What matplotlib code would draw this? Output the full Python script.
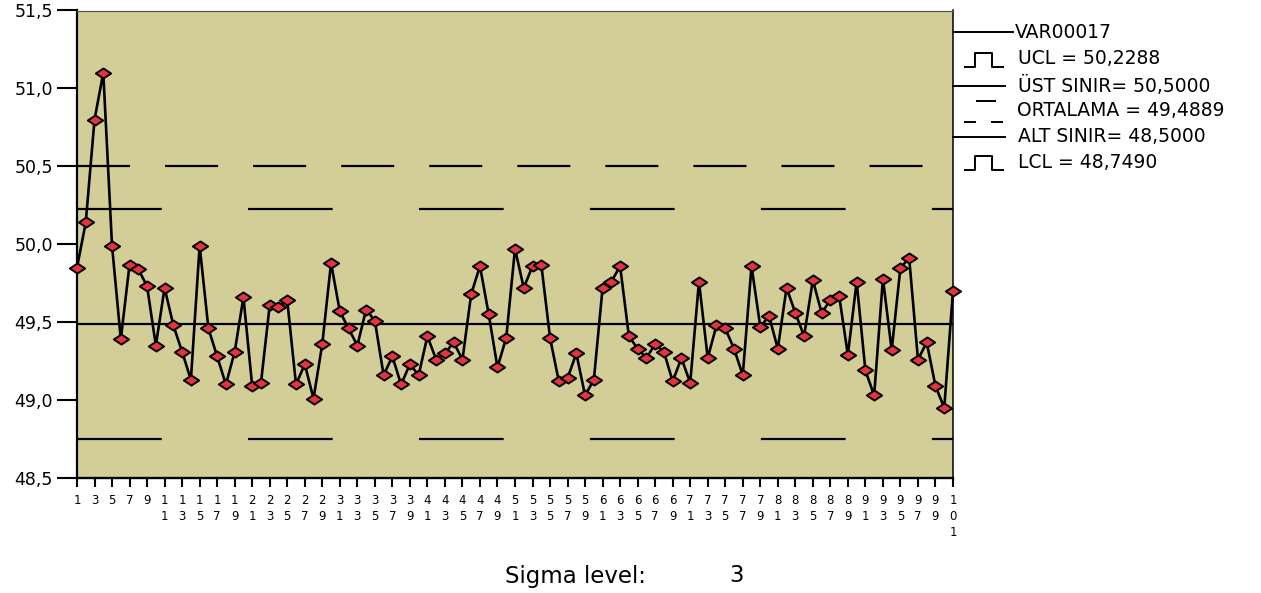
import matplotlib
matplotlib.use('Agg')
import matplotlib.pyplot as plt
from matplotlib.path import Path
from matplotlib.lines import Line2D

plt.rcParams['font.family'] = ['DejaVu Sans']
plt.rcParams['lines.scale_dashes'] = False

# ---------------- data ----------------
sample_no = list(range(1, 102))
values = [
    49.85, 50.14, 50.80, 51.10, 49.99, 49.39, 49.87, 49.84, 49.73, 49.35,
    49.72, 49.48, 49.31, 49.13, 49.99, 49.46, 49.28, 49.10, 49.31, 49.66,
    49.09, 49.11, 49.61, 49.60, 49.64, 49.10, 49.23, 49.01, 49.36, 49.88,
    49.57, 49.46, 49.35, 49.58, 49.51, 49.16, 49.28, 49.10, 49.23, 49.16,
    49.41, 49.26, 49.30, 49.37, 49.26, 49.68, 49.86, 49.55, 49.21, 49.40,
    49.97, 49.72, 49.86, 49.87, 49.40, 49.12, 49.14, 49.30, 49.03, 49.13,
    49.72, 49.76, 49.86, 49.41, 49.33, 49.27, 49.36, 49.31, 49.12, 49.27,
    49.11, 49.76, 49.27, 49.48, 49.46, 49.33, 49.16, 49.86, 49.47, 49.54,
    49.33, 49.72, 49.56, 49.41, 49.77, 49.56, 49.64, 49.67, 49.29, 49.76,
    49.19, 49.03, 49.78, 49.32, 49.85, 49.91, 49.26, 49.37, 49.09, 48.95,
    49.70,
]
UCL = 50.2288
LCL = 48.7490
UST_SINIR = 50.5000
ALT_SINIR = 48.5000
ORTALAMA = 49.4889

y_ticks = [48.5, 49.0, 49.5, 50.0, 50.5, 51.0, 51.5]
y_ticklabels = ['48,5', '49,0', '49,5', '50,0', '50,5', '51,0', '51,5']
x_ticks = list(range(1, 102, 2))
x_ticklabels = ['\n'.join(str(n)) for n in x_ticks]

legend_labels = ['VAR00017', 'UCL = 50,2288', 'ÜST SINIR= 50,5000',
                 'ORTALAMA = 49,4889', 'ALT SINIR= 48,5000', 'LCL = 48,7490']
sigma_label = 'Sigma level:'
sigma_value = '3'

# ---------------- figure ----------------
W, H = 1261, 593
fig = plt.figure(figsize=(W / 100, H / 100), dpi=100)


def fx(px):
    return px / W


def fy(py):
    return 1 - py / H


ax = fig.add_axes([fx(77), fy(478), fx(953) - fx(77), fy(10.5) - fy(478)])
ax.set_facecolor('#D3CE98')
ax.set_xlim(1, 101)
ax.set_ylim(ALT_SINIR, 51.5)

# control lines
ax.axhline(UST_SINIR, color='black', lw=1.6, dashes=(38.2, 25.2), zorder=2)
ax.axhline(UCL, color='black', lw=1.6, dashes=(61.0, 62.1), zorder=2)
ax.axhline(LCL, color='black', lw=1.6, dashes=(61.0, 62.1), zorder=2)
ax.axhline(ORTALAMA, color='black', lw=1.6, zorder=2)

diamond = Path([(-1, 0), (0, 0.66), (1, 0), (0, -0.66), (-1, 0)],
               [Path.MOVETO, Path.LINETO, Path.LINETO, Path.LINETO, Path.CLOSEPOLY])
ax.plot(sample_no, values, color='black', lw=1.9, marker=diamond, ms=11,
        mfc='#E8323C', mec='black', mew=1.4, clip_on=False, zorder=5)

ax.set_yticks(y_ticks)
ax.set_yticklabels(y_ticklabels)
ax.set_xticks(x_ticks)
ax.set_xticklabels(x_ticklabels)
for lbl in ax.get_xticklabels():
    lbl.set_linespacing(1.32)
ax.tick_params(axis='y', length=14.4, width=1.5, labelsize=12.5, pad=3, direction='out')
ax.tick_params(axis='x', length=6.5, width=1.5, labelsize=8.5, pad=5, direction='out')

ax.spines['top'].set_color('#555555')
ax.spines['top'].set_linewidth(0.9)
ax.spines['left'].set_linewidth(1.6)
ax.spines['bottom'].set_linewidth(1.7)
ax.spines['right'].set_linewidth(1.1)

# ---------------- legend (drawn manually like SPSS) ----------------
lkw = dict(color='black', lw=1.4, transform=fig.transFigure)
text_y = [32, 59, 86, 111, 137, 162]
text_x = [1015, 1018, 1018, 1017, 1018, 1018]

# VAR00017
fig.add_artist(Line2D([fx(953), fx(1013)], [fy(text_y[0])] * 2, **lkw))


def step_symbol(yc):
    xs = [965, 975, 975, 992, 992, 1003]
    ys = [yc + 8, yc + 8, yc - 6, yc - 6, yc + 8, yc + 8]
    fig.add_artist(Line2D([fx(v) for v in xs], [fy(v) for v in ys], **lkw))


# UCL step symbol
step_symbol(text_y[1])
# ÜST SINIR
fig.add_artist(Line2D([fx(953), fx(1005)], [fy(text_y[2])] * 2, **lkw))
# ORTALAMA dashed symbol
yc = text_y[3]
fig.add_artist(Line2D([fx(977), fx(995)], [fy(yc - 10)] * 2, **lkw))
fig.add_artist(Line2D([fx(965), fx(975)], [fy(yc + 11)] * 2, **lkw))
fig.add_artist(Line2D([fx(992), fx(1002)], [fy(yc + 11)] * 2, **lkw))
# ALT SINIR
fig.add_artist(Line2D([fx(953), fx(1005)], [fy(text_y[4])] * 2, **lkw))
# LCL
step_symbol(text_y[5])

for lab, tx, ty in zip(legend_labels, text_x, text_y):
    fig.text(fx(tx), fy(ty), lab, fontsize=13.5, va='center', ha='left')

fig.text(fx(505), fy(576), sigma_label, fontsize=16.5, va='center', ha='left')
fig.text(fx(729), fy(576), sigma_value, fontsize=16.5, va='center', ha='left')

fig.savefig('out.png', dpi=100)
